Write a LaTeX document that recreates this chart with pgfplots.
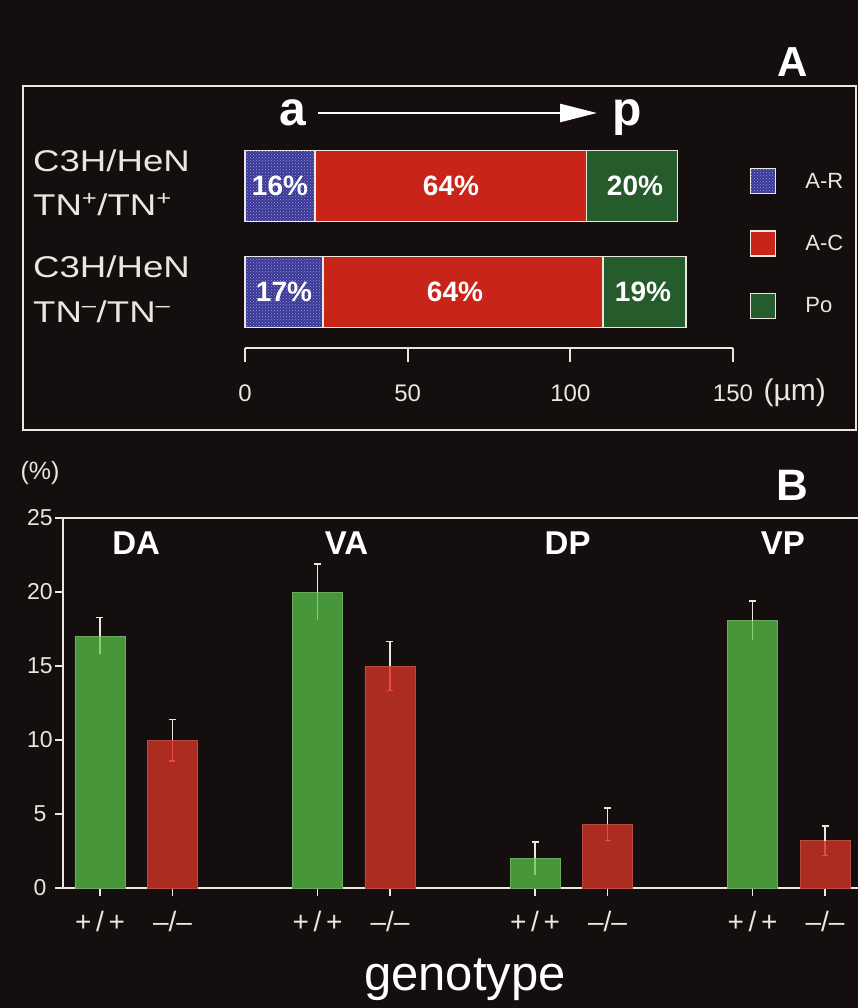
\documentclass[border=0pt]{standalone}
\usepackage{pgfplots}
\pgfplotsset{compat=1.18}
\usepackage{fontspec}
\setmainfont{Liberation Sans}
\newfontfamily\widefont[FakeStretch=1.22]{Liberation Sans}
\usetikzlibrary{arrows.meta,patterns}
\definecolor{bg}{RGB}{20,14,14}
\definecolor{lw}{RGB}{232,232,222}
\definecolor{arblue}{RGB}{58,56,150}
\definecolor{ardots}{RGB}{150,150,215}
\definecolor{acred}{RGB}{200,36,26}
\definecolor{pogreen}{RGB}{38,92,44}
\definecolor{bgreen}{RGB}{72,150,58}
\definecolor{bred}{RGB}{172,44,34}
\definecolor{bgreenl}{RGB}{140,205,120}
\definecolor{bredl}{RGB}{235,75,60}
\newcommand{\fs}[1]{\fontsize{#1}{#1}\selectfont}
\begin{document}
\begin{tikzpicture}
\fill[bg] (0pt,0pt) rectangle (858pt,-1008pt);
% ---------- Panel A ----------
\draw[lw, line width=2pt] (23pt,-86pt) rectangle (856pt,-430pt);
\node[text=white, font=\bfseries\fs{42}] at (793pt,-62pt) {A};
\node[text=white, font=\bfseries\fs{48}, anchor=base] at (293pt,-126pt) {a};
\node[text=white, font=\bfseries\fs{48}, anchor=base] at (627pt,-126pt) {p};
\draw[white, line width=2.5pt, -{Triangle[length=37pt,width=18pt]}] (318pt,-113pt) -- (597pt,-113pt);
\node[text=lw, font=\widefont\fs{30}, anchor=base west, inner sep=0pt] at (33pt,-172pt) {C3H/HeN};
\node[text=lw, font=\widefont\fs{30}, anchor=base west, inner sep=0pt] at (33pt,-215pt) {TN\textsuperscript{+}/TN\textsuperscript{+}};
\node[text=lw, font=\widefont\fs{30}, anchor=base west, inner sep=0pt] at (33pt,-277pt) {C3H/HeN};
\node[text=lw, font=\widefont\fs{30}, anchor=base west, inner sep=0pt] at (33pt,-322pt) {TN\textsuperscript{–}/TN\textsuperscript{–}};
\begin{axis}[
  at={(245pt,-348pt)}, anchor=south west,
  scale only axis, width=488pt, height=215pt,
  xmin=0, xmax=150, ymin=0, ymax=215,
  xbar stacked, bar width=71,
  axis x line*=bottom, axis y line=none,
  x axis line style={lw, line width=2pt, -},
  xtick={0,50,100,150}, ytick=\empty,
  major tick length=14pt, tick align=outside,
  tick style={lw, line width=2pt},
  xticklabel style={text=lw, font=\fs{24}, yshift=-19pt},
  /pgf/number format/assume math mode=true,
  clip=false,
  legend style={at={(axis description cs:1.035,0.837)}, anchor=north west,
    draw=none, fill=none, inner sep=0pt, text=lw, font=\fs{22},
    row sep=36pt, cells={anchor=west},
    /tikz/every odd column/.append style={column sep=27pt}},
  legend image code/.code={\draw[#1, draw=lw, line width=1.2pt] (0pt,-12.5pt) rectangle (25pt,12.5pt);},
]
\addplot[fill=arblue, draw=lw, line width=1.5pt, postaction={pattern=crosshatch dots, pattern color=ardots}] coordinates {(21.5,162) (24,56)};
\addplot[fill=acred, draw=lw, line width=1.5pt] coordinates {(83.5,162) (86,56)};
\addplot[fill=pogreen, draw=lw, line width=1.5pt] coordinates {(28,162) (25.5,56)};
\legend{A-R,A-C,Po}
\end{axis}
% percent labels inside the bars
\node[text=white, font=\bfseries\fs{28}] at (280pt,-186pt) {16\%};
\node[text=white, font=\bfseries\fs{28}] at (451pt,-186pt) {64\%};
\node[text=white, font=\bfseries\fs{28}] at (635pt,-186pt) {20\%};
\node[text=white, font=\bfseries\fs{28}] at (284pt,-292pt) {17\%};
\node[text=white, font=\bfseries\fs{28}] at (455pt,-292pt) {64\%};
\node[text=white, font=\bfseries\fs{28}] at (643pt,-292pt) {19\%};
\node[text=lw, font=\fs{30}, anchor=west] at (760pt,-393pt) {(µm)};
% ---------- Panel B ----------
\node[text=lw, font=\fs{25}] at (40pt,-473pt) {(\%)};
\node[text=white, font=\bfseries\fs{44}] at (792pt,-485pt) {B};
\node[text=white, font=\fs{49}, anchor=base] at (465pt,-990pt) {genotype};
\begin{axis}[
  at={(63pt,-888pt)}, anchor=south west,
  scale only axis, width=795pt, height=370pt,
  xmin=0.49, xmax=11.455, ymin=0, ymax=25,
  axis x line*=bottom, axis y line*=left,
  axis line style={lw, line width=1.3pt, -},
  xtick={1,2,4,5,7,8,10,11},
  xticklabels={+\,/\,+,–/–,+\,/\,+,–/–,+\,/\,+,–/–,+\,/\,+,–/–},
  ytick={0,5,10,15,20,25},
  tick align=outside, major tick length=8pt,
  tick style={lw, line width=1.3pt},
  xticklabel style={text=lw, font=\fs{28}, yshift=-12pt},
  yticklabel style={text=lw, font=\fs{23}, anchor=center, xshift=-15pt},
  /pgf/number format/assume math mode=true,
  clip=false,
]
\draw[lw, line width=1.3pt] (axis description cs:0,1) -- (axis description cs:1,1);
\addplot[ybar, bar width=50pt, bar shift=0pt, fill=bgreen, draw=bgreen!80!white, line width=0.8pt,
  error bars/.cd, y dir=minus, y explicit, error mark=none,
  error bar style={draw=bgreenl, line width=1.6pt}]
  coordinates {(1,17) -= (0,1.2) (4,20) -= (0,1.9) (7,2.0) -= (0,1.1) (10,18.05) -= (0,1.3)};
\addplot[ybar, bar width=50pt, bar shift=0pt, fill=bred, draw=bred!85!white, line width=0.8pt,
  error bars/.cd, y dir=minus, y explicit, error mark=-,
  error bar style={draw=bredl, line width=1.6pt},
  error mark options={rotate=90, draw=bredl, line width=1.6pt, mark size=3pt}]
  coordinates {(2,10) -= (0,1.4) (5,15) -= (0,1.65) (8,4.3) -= (0,1.1) (11,3.2) -= (0,1.0)};
\addplot[draw=none, mark=none,
  error bars/.cd, y dir=plus, y explicit, error mark=-,
  error bar style={draw=lw, line width=1.3pt},
  error mark options={rotate=90, draw=lw, line width=1.3pt, mark size=3.5pt}]
  coordinates {(1,17) += (0,1.3) (4,20) += (0,1.9) (7,2.0) += (0,1.1) (10,18.05) += (0,1.35)
               (2,10) += (0,1.4) (5,15) += (0,1.65) (8,4.3) += (0,1.1) (11,3.2) += (0,1.0)};
\node[text=white, font=\bfseries\fs{33}] at (axis cs:1.5,23.3) {DA};
\node[text=white, font=\bfseries\fs{33}] at (axis cs:4.4,23.3) {VA};
\node[text=white, font=\bfseries\fs{33}] at (axis cs:7.45,23.3) {DP};
\node[text=white, font=\bfseries\fs{33}] at (axis cs:10.42,23.3) {VP};
\end{axis}
\end{tikzpicture}
\end{document}
